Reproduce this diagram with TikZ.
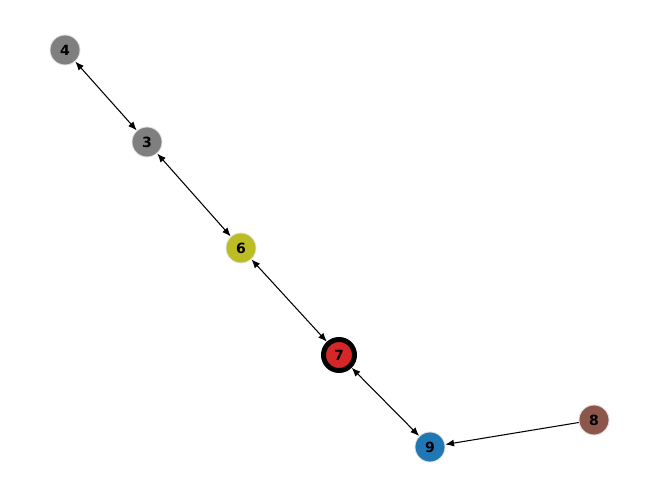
\documentclass[tikz,border=0pt]{standalone}
\usepackage{fontspec}
\setsansfont{DejaVu Sans}
\usetikzlibrary{arrows.meta}
\definecolor{tabGray}{HTML}{7F7F7F}
\definecolor{tabOlive}{HTML}{BCBD22}
\definecolor{tabRed}{HTML}{D62728}
\definecolor{tabBlue}{HTML}{1F77B4}
\definecolor{tabBrown}{HTML}{8C564B}
\begin{document}
\begin{tikzpicture}[x=0.02cm,y=-0.02cm,%%
  nodeStyle/.style={circle,minimum size=0.6cm,inner sep=0pt,draw=black!12,line width=0.5pt,%%
    font=\sffamily\bfseries\fontsize{8}{8}\selectfont},%%
  focusStyle/.style={nodeStyle,draw=black,line width=0.1cm,minimum size=0.62cm},%%
  edgeStyle/.style={-{Latex[length=5pt,width=4pt]},line width=0.6pt},%%
  bothStyle/.style={{Latex[length=5pt,width=4pt]}-{Latex[length=5pt,width=4pt]},line width=0.6pt}%%
]
%%
\useasboundingbox (0,0) rectangle (660,499);
%%
%% Place the nodes.
\node[nodeStyle,fill=tabGray] (n4) at (65,50) {4};
\node[nodeStyle,fill=tabGray] (n3) at (147,142) {3};
\node[nodeStyle,fill=tabOlive] (n6) at (241,248) {6};
\node[focusStyle,fill=tabRed] (n7) at (339,355) {7};
\node[nodeStyle,fill=tabBlue] (n9) at (430,447) {9};
\node[nodeStyle,fill=tabBrown] (n8) at (594,420) {8};
%%
%% Draw the edges.
\draw[bothStyle] (n4) -- (n3);
\draw[bothStyle] (n3) -- (n6);
\draw[bothStyle] (n6) -- (n7);
\draw[bothStyle] (n7) -- (n9);
\draw[edgeStyle] (n8) -- (n9);
\end{tikzpicture}
\end{document}
